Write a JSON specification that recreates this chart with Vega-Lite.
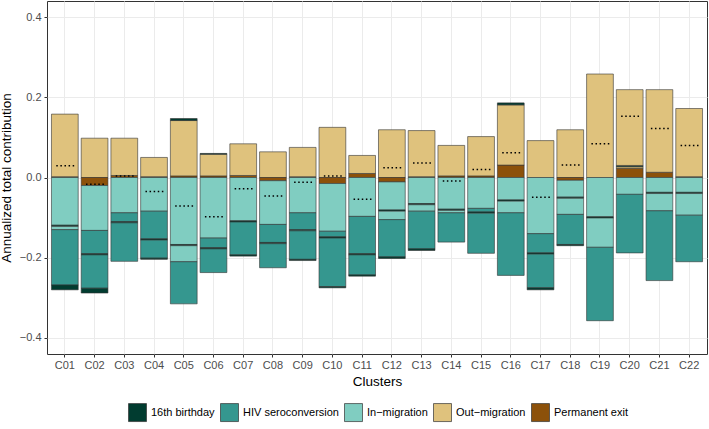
{
  "$schema": "https://vega.github.io/schema/vega-lite/v6.json",
  "width": 660,
  "height": 353,
  "autosize": {"type": "none"},
  "padding": {"left": 47, "top": 1, "right": 2, "bottom": 75},
  "background": "white",
  "config": {
    "font": "Liberation Sans",
    "view": {"stroke": "#333333", "strokeWidth": 1},
    "axis": {
      "grid": true,
      "gridColor": "#ebebeb",
      "gridWidth": 1,
      "domain": false,
      "tickColor": "#333333",
      "tickSize": 3,
      "labelColor": "#4d4d4d",
      "labelFontSize": 11,
      "titleFontSize": 13.5,
      "titleFontWeight": "normal",
      "titleColor": "#000000"
    }
  },
  "datasets": {
    "segs": [
      {"cluster": "C01", "component": "Permanent exit", "value": 0.002, "order": 1},
      {"cluster": "C01", "component": "Out-migration", "value": 0.156, "order": 2},
      {"cluster": "C01", "component": "In-migration", "value": -0.119, "order": 1},
      {"cluster": "C01", "component": "16th birthday", "value": -0.003, "order": 2},
      {"cluster": "C01", "component": "In-migration", "value": -0.008, "order": 3},
      {"cluster": "C01", "component": "HIV seroconversion", "value": -0.138, "order": 4},
      {"cluster": "C01", "component": "16th birthday", "value": -0.012, "order": 5},

      {"cluster": "C02", "component": "Out-migration", "value": 0.098, "order": 1},
      {"cluster": "C02", "component": "Permanent exit", "value": -0.020, "order": 1},
      {"cluster": "C02", "component": "In-migration", "value": -0.112, "order": 2},
      {"cluster": "C02", "component": "HIV seroconversion", "value": -0.058, "order": 3},
      {"cluster": "C02", "component": "16th birthday", "value": -0.003, "order": 4},
      {"cluster": "C02", "component": "HIV seroconversion", "value": -0.083, "order": 5},
      {"cluster": "C02", "component": "16th birthday", "value": -0.012, "order": 6},

      {"cluster": "C03", "component": "Permanent exit", "value": 0.005, "order": 1},
      {"cluster": "C03", "component": "Out-migration", "value": 0.093, "order": 2},
      {"cluster": "C03", "component": "In-migration", "value": -0.088, "order": 1},
      {"cluster": "C03", "component": "HIV seroconversion", "value": -0.022, "order": 2},
      {"cluster": "C03", "component": "16th birthday", "value": -0.003, "order": 3},
      {"cluster": "C03", "component": "HIV seroconversion", "value": -0.096, "order": 4},

      {"cluster": "C04", "component": "Permanent exit", "value": 0.002, "order": 1},
      {"cluster": "C04", "component": "Out-migration", "value": 0.048, "order": 2},
      {"cluster": "C04", "component": "In-migration", "value": -0.084, "order": 1},
      {"cluster": "C04", "component": "HIV seroconversion", "value": -0.069, "order": 2},
      {"cluster": "C04", "component": "16th birthday", "value": -0.003, "order": 3},
      {"cluster": "C04", "component": "HIV seroconversion", "value": -0.045, "order": 4},
      {"cluster": "C04", "component": "16th birthday", "value": -0.003, "order": 5},

      {"cluster": "C05", "component": "Permanent exit", "value": 0.004, "order": 1},
      {"cluster": "C05", "component": "Out-migration", "value": 0.138, "order": 2},
      {"cluster": "C05", "component": "16th birthday", "value": 0.005, "order": 3},
      {"cluster": "C05", "component": "In-migration", "value": -0.167, "order": 1},
      {"cluster": "C05", "component": "16th birthday", "value": -0.003, "order": 2},
      {"cluster": "C05", "component": "In-migration", "value": -0.040, "order": 3},
      {"cluster": "C05", "component": "HIV seroconversion", "value": -0.105, "order": 4},

      {"cluster": "C06", "component": "Permanent exit", "value": 0.004, "order": 1},
      {"cluster": "C06", "component": "Out-migration", "value": 0.054, "order": 2},
      {"cluster": "C06", "component": "16th birthday", "value": 0.002, "order": 3},
      {"cluster": "C06", "component": "In-migration", "value": -0.151, "order": 1},
      {"cluster": "C06", "component": "HIV seroconversion", "value": -0.024, "order": 2},
      {"cluster": "C06", "component": "16th birthday", "value": -0.003, "order": 3},
      {"cluster": "C06", "component": "HIV seroconversion", "value": -0.059, "order": 4},

      {"cluster": "C07", "component": "Permanent exit", "value": 0.005, "order": 1},
      {"cluster": "C07", "component": "Out-migration", "value": 0.079, "order": 2},
      {"cluster": "C07", "component": "In-migration", "value": -0.108, "order": 1},
      {"cluster": "C07", "component": "16th birthday", "value": -0.003, "order": 2},
      {"cluster": "C07", "component": "HIV seroconversion", "value": -0.082, "order": 3},
      {"cluster": "C07", "component": "16th birthday", "value": -0.003, "order": 4},

      {"cluster": "C08", "component": "Out-migration", "value": 0.064, "order": 1},
      {"cluster": "C08", "component": "Permanent exit", "value": -0.008, "order": 1},
      {"cluster": "C08", "component": "In-migration", "value": -0.109, "order": 2},
      {"cluster": "C08", "component": "HIV seroconversion", "value": -0.045, "order": 3},
      {"cluster": "C08", "component": "16th birthday", "value": -0.003, "order": 4},
      {"cluster": "C08", "component": "HIV seroconversion", "value": -0.060, "order": 5},

      {"cluster": "C09", "component": "Permanent exit", "value": 0.002, "order": 1},
      {"cluster": "C09", "component": "Out-migration", "value": 0.073, "order": 2},
      {"cluster": "C09", "component": "In-migration", "value": -0.088, "order": 1},
      {"cluster": "C09", "component": "HIV seroconversion", "value": -0.042, "order": 2},
      {"cluster": "C09", "component": "16th birthday", "value": -0.003, "order": 3},
      {"cluster": "C09", "component": "HIV seroconversion", "value": -0.071, "order": 4},
      {"cluster": "C09", "component": "16th birthday", "value": -0.003, "order": 5},

      {"cluster": "C10", "component": "Out-migration", "value": 0.125, "order": 1},
      {"cluster": "C10", "component": "Permanent exit", "value": -0.015, "order": 1},
      {"cluster": "C10", "component": "In-migration", "value": -0.119, "order": 2},
      {"cluster": "C10", "component": "HIV seroconversion", "value": -0.014, "order": 3},
      {"cluster": "C10", "component": "16th birthday", "value": -0.003, "order": 4},
      {"cluster": "C10", "component": "HIV seroconversion", "value": -0.121, "order": 5},
      {"cluster": "C10", "component": "16th birthday", "value": -0.003, "order": 6},

      {"cluster": "C11", "component": "Permanent exit", "value": 0.010, "order": 1},
      {"cluster": "C11", "component": "Out-migration", "value": 0.045, "order": 2},
      {"cluster": "C11", "component": "In-migration", "value": -0.097, "order": 1},
      {"cluster": "C11", "component": "HIV seroconversion", "value": -0.093, "order": 2},
      {"cluster": "C11", "component": "16th birthday", "value": -0.003, "order": 3},
      {"cluster": "C11", "component": "HIV seroconversion", "value": -0.050, "order": 4},
      {"cluster": "C11", "component": "16th birthday", "value": -0.003, "order": 5},

      {"cluster": "C12", "component": "Out-migration", "value": 0.119, "order": 1},
      {"cluster": "C12", "component": "Permanent exit", "value": -0.011, "order": 1},
      {"cluster": "C12", "component": "In-migration", "value": -0.070, "order": 2},
      {"cluster": "C12", "component": "16th birthday", "value": -0.003, "order": 3},
      {"cluster": "C12", "component": "In-migration", "value": -0.021, "order": 4},
      {"cluster": "C12", "component": "HIV seroconversion", "value": -0.093, "order": 5},
      {"cluster": "C12", "component": "16th birthday", "value": -0.004, "order": 6},

      {"cluster": "C13", "component": "Permanent exit", "value": 0.002, "order": 1},
      {"cluster": "C13", "component": "Out-migration", "value": 0.115, "order": 2},
      {"cluster": "C13", "component": "In-migration", "value": -0.065, "order": 1},
      {"cluster": "C13", "component": "16th birthday", "value": -0.003, "order": 2},
      {"cluster": "C13", "component": "In-migration", "value": -0.016, "order": 3},
      {"cluster": "C13", "component": "HIV seroconversion", "value": -0.094, "order": 4},
      {"cluster": "C13", "component": "16th birthday", "value": -0.004, "order": 5},

      {"cluster": "C14", "component": "Permanent exit", "value": 0.004, "order": 1},
      {"cluster": "C14", "component": "Out-migration", "value": 0.076, "order": 2},
      {"cluster": "C14", "component": "In-migration", "value": -0.079, "order": 1},
      {"cluster": "C14", "component": "16th birthday", "value": -0.003, "order": 2},
      {"cluster": "C14", "component": "In-migration", "value": -0.006, "order": 3},
      {"cluster": "C14", "component": "HIV seroconversion", "value": -0.073, "order": 4},

      {"cluster": "C15", "component": "Permanent exit", "value": 0.004, "order": 1},
      {"cluster": "C15", "component": "Out-migration", "value": 0.098, "order": 2},
      {"cluster": "C15", "component": "In-migration", "value": -0.077, "order": 1},
      {"cluster": "C15", "component": "HIV seroconversion", "value": -0.009, "order": 2},
      {"cluster": "C15", "component": "16th birthday", "value": -0.003, "order": 3},
      {"cluster": "C15", "component": "HIV seroconversion", "value": -0.100, "order": 4},

      {"cluster": "C16", "component": "Permanent exit", "value": 0.031, "order": 1},
      {"cluster": "C16", "component": "Out-migration", "value": 0.150, "order": 2},
      {"cluster": "C16", "component": "16th birthday", "value": 0.005, "order": 3},
      {"cluster": "C16", "component": "In-migration", "value": -0.056, "order": 1},
      {"cluster": "C16", "component": "16th birthday", "value": -0.003, "order": 2},
      {"cluster": "C16", "component": "In-migration", "value": -0.029, "order": 3},
      {"cluster": "C16", "component": "HIV seroconversion", "value": -0.156, "order": 4},

      {"cluster": "C17", "component": "Out-migration", "value": 0.092, "order": 1},
      {"cluster": "C17", "component": "In-migration", "value": -0.140, "order": 1},
      {"cluster": "C17", "component": "HIV seroconversion", "value": -0.048, "order": 2},
      {"cluster": "C17", "component": "16th birthday", "value": -0.003, "order": 3},
      {"cluster": "C17", "component": "HIV seroconversion", "value": -0.084, "order": 4},
      {"cluster": "C17", "component": "16th birthday", "value": -0.005, "order": 5},

      {"cluster": "C18", "component": "Out-migration", "value": 0.119, "order": 1},
      {"cluster": "C18", "component": "Permanent exit", "value": -0.007, "order": 1},
      {"cluster": "C18", "component": "In-migration", "value": -0.042, "order": 2},
      {"cluster": "C18", "component": "16th birthday", "value": -0.003, "order": 3},
      {"cluster": "C18", "component": "In-migration", "value": -0.040, "order": 4},
      {"cluster": "C18", "component": "HIV seroconversion", "value": -0.075, "order": 5},
      {"cluster": "C18", "component": "16th birthday", "value": -0.003, "order": 6},

      {"cluster": "C19", "component": "Out-migration", "value": 0.258, "order": 1},
      {"cluster": "C19", "component": "In-migration", "value": -0.098, "order": 1},
      {"cluster": "C19", "component": "16th birthday", "value": -0.003, "order": 2},
      {"cluster": "C19", "component": "In-migration", "value": -0.073, "order": 3},
      {"cluster": "C19", "component": "HIV seroconversion", "value": -0.183, "order": 4},

      {"cluster": "C20", "component": "Permanent exit", "value": 0.023, "order": 1},
      {"cluster": "C20", "component": "Out-migration", "value": 0.004, "order": 2},
      {"cluster": "C20", "component": "16th birthday", "value": 0.003, "order": 3},
      {"cluster": "C20", "component": "Out-migration", "value": 0.189, "order": 4},
      {"cluster": "C20", "component": "In-migration", "value": -0.042, "order": 1},
      {"cluster": "C20", "component": "HIV seroconversion", "value": -0.146, "order": 2},

      {"cluster": "C21", "component": "Permanent exit", "value": 0.013, "order": 1},
      {"cluster": "C21", "component": "Out-migration", "value": 0.206, "order": 2},
      {"cluster": "C21", "component": "In-migration", "value": -0.037, "order": 1},
      {"cluster": "C21", "component": "16th birthday", "value": -0.003, "order": 2},
      {"cluster": "C21", "component": "In-migration", "value": -0.043, "order": 3},
      {"cluster": "C21", "component": "HIV seroconversion", "value": -0.174, "order": 4},

      {"cluster": "C22", "component": "Permanent exit", "value": 0.002, "order": 1},
      {"cluster": "C22", "component": "Out-migration", "value": 0.170, "order": 2},
      {"cluster": "C22", "component": "In-migration", "value": -0.037, "order": 1},
      {"cluster": "C22", "component": "16th birthday", "value": -0.003, "order": 2},
      {"cluster": "C22", "component": "In-migration", "value": -0.054, "order": 3},
      {"cluster": "C22", "component": "HIV seroconversion", "value": -0.116, "order": 4}
    ],
    "net": [
      {"cluster": "C01", "net": 0.029},
      {"cluster": "C02", "net": -0.017},
      {"cluster": "C03", "net": 0.004},
      {"cluster": "C04", "net": -0.035},
      {"cluster": "C05", "net": -0.071},
      {"cluster": "C06", "net": -0.098},
      {"cluster": "C07", "net": -0.028},
      {"cluster": "C08", "net": -0.046},
      {"cluster": "C09", "net": -0.012},
      {"cluster": "C10", "net": 0.004},
      {"cluster": "C11", "net": -0.054},
      {"cluster": "C12", "net": 0.024},
      {"cluster": "C13", "net": 0.036},
      {"cluster": "C14", "net": -0.009},
      {"cluster": "C15", "net": 0.020},
      {"cluster": "C16", "net": 0.062},
      {"cluster": "C17", "net": -0.049},
      {"cluster": "C18", "net": 0.031},
      {"cluster": "C19", "net": 0.084},
      {"cluster": "C20", "net": 0.153},
      {"cluster": "C21", "net": 0.122},
      {"cluster": "C22", "net": 0.080}
    ]
  },
  "layer": [
    {
      "data": {"name": "segs"},
      "mark": {"type": "bar", "stroke": "#333333", "strokeWidth": 0.7, "strokeOpacity": 0.85},
      "encoding": {
        "x": {
          "field": "cluster", "type": "nominal",
          "scale": {"paddingInner": 0.1, "paddingOuter": 0.15},
          "axis": {"title": "Clusters", "labelAngle": 0, "labelPadding": 2, "titlePadding": 4, "grid": true, "bandPosition": 0.5}
        },
        "y": {
          "field": "value", "type": "quantitative", "stack": "zero",
          "scale": {"domain": [-0.44, 0.44], "nice": false, "zero": false},
          "axis": {"title": "Annualized total contribution", "values": [-0.4, -0.2, 0, 0.2, 0.4], "format": ".1f", "labelPadding": 3, "titlePadding": 6}
        },
        "color": {
          "field": "component", "type": "nominal",
          "scale": {
            "domain": ["16th birthday", "HIV seroconversion", "In-migration", "Out-migration", "Permanent exit"],
            "range": ["#013c30", "#35978f", "#80cdc1", "#dfc27d", "#8c510a"]
          },
          "legend": {
            "title": null,
            "orient": "none",
            "direction": "horizontal",
            "legendX": 81,
            "legendY": 402,
            "symbolType": "square",
            "symbolSize": 324,
            "symbolStrokeColor": "#333333",
            "symbolStrokeWidth": 0.7,
            "symbolOpacity": 1,
            "labelFontSize": 11,
            "labelColor": "#000000",
            "labelOffset": 4,
            "columnPadding": 4,
            "labelExpr": "replace(datum.label, '-', '\u2212')"
          }
        },
        "order": {"field": "order", "type": "quantitative"}
      }
    },
    {
      "data": {"name": "net"},
      "mark": {"type": "rule", "color": "#000000", "strokeWidth": 1.5, "strokeDash": [1.5, 2.6]},
      "encoding": {
        "x": {"field": "cluster", "type": "nominal", "bandPosition": 0.18},
        "x2": {"field": "cluster", "bandPosition": 0.86},
        "y": {"field": "net", "type": "quantitative"}
      }
    }
  ]
}
